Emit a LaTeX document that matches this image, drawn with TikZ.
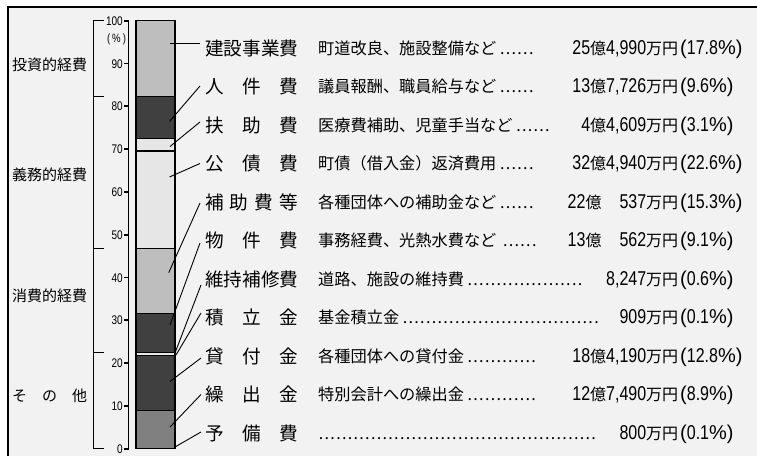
\documentclass[tikz,border=0pt]{standalone}
\usepackage{fontspec}
\setmainfont{Noto Sans CJK JP}
\newfontfamily\nf[FakeStretch=0.8]{Liberation Sans}
\newfontfamily\pf{Liberation Sans}
\definecolor{bgc}{HTML}{F2F2F2}
\definecolor{lightA}{HTML}{BEBEBE}
\definecolor{darkA}{HTML}{404040}
\definecolor{paleA}{HTML}{E6E6E6}
\definecolor{midA}{HTML}{808080}
\newcommand\Dg[1]{{\nf\fontsize{20}{20}\selectfont #1}}
\newcommand\Pct[1]{\hspace{2pt}{\pf\fontsize{20}{20}\selectfont(}\Dg{#1}{\pf\fontsize{20}{20}\selectfont\%)}}
\newcommand\DotN[1]{\hbox to \dimexpr 5.8pt*#1\relax{\cleaders\hbox to 5.8pt{\hss.\hss}\hfill}}
\newcommand\DescTxt[2]{#1\hspace{3pt}\DotN{#2}}
\begin{document}
\begin{tikzpicture}[x=1pt,y=-1pt,
  lab/.style={inner sep=0pt, anchor=west, font=\fontsize{18.6}{18.6}\selectfont, text height=16.4pt, text depth=2.2pt},
  desc/.style={inner sep=0pt, anchor=west, font=\fontsize{16.2}{16.2}\selectfont, text height=14.2pt, text depth=2pt},
  amt/.style={inner sep=0pt, anchor=west, font=\fontsize{16}{16}\selectfont, text height=14pt, text depth=2pt},
  side/.style={inner sep=0pt, anchor=west, font=\fontsize{15}{15}\selectfont, text height=13.2pt, text depth=1.8pt},
  axl/.style={inner sep=0pt, anchor=east, font=\nf\fontsize{12.5}{12.5}\selectfont, text height=9pt, text depth=0pt},
  seg/.style={draw=black, line width=0.9pt},
  conn/.style={draw=black, line width=0.9pt},
  tickmark/.style={line width=1.8pt},
  brk/.style={line width=1pt}
]
\path[use as bounding box] (0,0) rectangle (757,455);
\begin{scope}
\clip (0,0) rectangle (757,455);
\fill[white] (0,0) rectangle (757,455);
\draw[fill=bgc, line width=1.6pt] (8,7) rectangle (800,500);

% left bracket
\draw[brk] (104,20.7) -- (93,20.7) -- (93,448.7) -- (104,448.7);
\draw[brk] (93,96.9) -- (104,96.9);
\draw[brk] (93,248.0) -- (104,248.0);
\draw[brk] (93,352.4) -- (104,352.4);

% side labels
\node[side] (S1) at (12,65) {投資的経費};
\node[side] (S2) at (12,175) {義務的経費};
\node[side] (S3) at (12,296) {消費的経費};
\node[side] (S4) at (12,396) {\makebox[75pt][s]{そ\hfill の\hfill 他}};

% axis
\draw[line width=1.2pt] (128.7,20.7) -- (128.7,448.7);
\foreach \p/\yy in {100/20.7,90/63.5,80/106.3,70/149.1,60/191.9,50/234.7,40/277.5,30/320.3,20/363.1,10/405.9,0/448.7}{
  \draw[tickmark] (124,\yy) -- (128.7,\yy);
  \node[axl] (t\p) at (123,\yy) {\p};
}
\node[inner sep=0pt, font=\nf\fontsize{12}{12}\selectfont] (pc) at (116.5,39) {(\hspace{2pt}\%\hspace{2pt})};

% bar segments
\draw[seg, fill=lightA] (136,20.7) rectangle (175,96.9);
\draw[seg, fill=darkA] (136,96.9) rectangle (175,138.0);
\draw[seg, fill=paleA] (136,138.0) rectangle (175,151.2);
\draw[seg, fill=paleA] (136,151.2) rectangle (175,248.0);
\draw[seg, fill=lightA] (136,248.0) rectangle (175,313.5);
\draw[seg, fill=darkA] (136,313.5) rectangle (175,352.4);
\draw[seg, fill=paleA] (136,352.4) rectangle (175,355.0);
\draw[seg, fill=darkA] (136,355.0) rectangle (175,355.4);
\draw[seg, fill=darkA] (136,355.4) rectangle (175,410.2);
\draw[seg, fill=midA] (136,410.2) rectangle (175,448.3);
\draw[seg, fill=darkA] (136,448.3) rectangle (175,448.7);
\draw[line width=1.6pt] (136,151.2) -- (175,151.2);
\draw[line width=1.2pt] (136,20.7) rectangle (175,448.7);

% bar-side connector points
\coordinate (b1) at (170,43);
\coordinate (b2) at (169.5,121.5);
\coordinate (b3) at (170,146.5);
\coordinate (b4) at (169.5,177);
\coordinate (b5) at (168.7,272.7);
\coordinate (b6) at (170,325);
\coordinate (b7) at (175,353);
\coordinate (b8) at (176,355);
\coordinate (b9) at (170,381.5);
\coordinate (b10) at (170,427);
\coordinate (b11) at (175,447);

% category labels
\node[lab] (L1) at (205,48) {建設事業費};
\node[lab] (L2) at (205,86.5) {\makebox[93pt][s]{人\hfill 件\hfill 費}};
\node[lab] (L3) at (205,125) {\makebox[93pt][s]{扶\hfill 助\hfill 費}};
\node[lab] (L4) at (205,163.5) {\makebox[93pt][s]{公\hfill 債\hfill 費}};
\node[lab] (L5) at (205,202) {\makebox[93pt][s]{補\hfill 助\hfill 費\hfill 等}};
\node[lab] (L6) at (205,240.5) {\makebox[93pt][s]{物\hfill 件\hfill 費}};
\node[lab] (L7) at (205,279) {維持補修費};
\node[lab] (L8) at (205,317.5) {\makebox[93pt][s]{積\hfill 立\hfill 金}};
\node[lab] (L9) at (205,356) {\makebox[93pt][s]{貸\hfill 付\hfill 金}};
\node[lab] (L10) at (205,394.5) {\makebox[93pt][s]{繰\hfill 出\hfill 金}};
\node[lab] (L11) at (205,433) {\makebox[93pt][s]{予\hfill 備\hfill 費}};

% connectors
\draw[conn] (b1) -- ([xshift=-5pt,yshift=5pt]L1.west);
\draw[conn] (b2) -- ([xshift=-5pt,yshift=0.5pt]L2.west);
\draw[conn] (b3) -- ([xshift=-5pt,yshift=3pt]L3.west);
\draw[conn] (b4) -- ([xshift=-5pt,yshift=0pt]L4.west);
\draw[conn] (b5) -- ([xshift=-5pt,yshift=-1pt]L5.west);
\draw[conn] (b6) -- ([xshift=-5pt,yshift=-2.5pt]L6.west);
\draw[conn] (b7) -- ([xshift=-4pt,yshift=-6pt]L7.west);
\draw[conn] (b8) -- ([xshift=-4pt,yshift=4.5pt]L8.west);
\draw[conn] (b9) -- ([xshift=-4pt,yshift=-2pt]L9.west);
\draw[conn] (b10) -- ([xshift=-4pt,yshift=0pt]L10.west);
\draw[conn] (b11) -- ([xshift=-4pt,yshift=1pt]L11.west);

% descriptions
\node[desc] (D1) at (318,48) {\DescTxt{町道改良、施設整備など}{6}};
\node[desc] (D2) at (318,86.5) {\DescTxt{議員報酬、職員給与など}{6}};
\node[desc] (D3) at (318,125) {\DescTxt{医療費補助、児童手当など}{6}};
\node[desc] (D4) at (318,163.5) {\DescTxt{町債（借入金）返済費用}{6}};
\node[desc] (D5) at (318,202) {\DescTxt{各種団体への補助金など}{6}};
\node[desc] (D6) at (318,240.5) {\DescTxt{事務経費、光熱水費など\hspace{3pt}}{6}};
\node[desc] (D7) at (318,279) {\DescTxt{道路、施設の維持費}{20}};
\node[desc] (D8) at (318,317.5) {\DescTxt{基金積立金}{34}};
\node[desc] (D9) at (318,356) {\DescTxt{各種団体への貸付金}{12}};
\node[desc] (D10) at (318,394.5) {\DescTxt{特別会計への繰出金}{12}};
\node[desc] (D11) at (318,433) {\DotN{48}};

% amounts
\node[amt] (A1) at (646,48) {\makebox[0pt][r]{\Dg{25}億\Dg{4,990}}万円\Pct{17.8}};
\node[amt] (A2) at (646,86.5) {\makebox[0pt][r]{\Dg{13}億\Dg{7,726}}万円\Pct{9.6}};
\node[amt] (A3) at (646,125) {\makebox[0pt][r]{\Dg{4}億\Dg{4,609}}万円\Pct{3.1}};
\node[amt] (A4) at (646,163.5) {\makebox[0pt][r]{\Dg{32}億\Dg{4,940}}万円\Pct{22.6}};
\node[amt] (A5) at (646,202) {\makebox[0pt][r]{\Dg{22}億\hspace{18pt}\Dg{537}}万円\Pct{15.3}};
\node[amt] (A6) at (646,240.5) {\makebox[0pt][r]{\Dg{13}億\hspace{18pt}\Dg{562}}万円\Pct{9.1}};
\node[amt] (A7) at (646,279) {\makebox[0pt][r]{\Dg{8,247}}万円\Pct{0.6}};
\node[amt] (A8) at (646,317.5) {\makebox[0pt][r]{\Dg{909}}万円\Pct{0.1}};
\node[amt] (A9) at (646,356) {\makebox[0pt][r]{\Dg{18}億\Dg{4,190}}万円\Pct{12.8}};
\node[amt] (A10) at (646,394.5) {\makebox[0pt][r]{\Dg{12}億\Dg{7,490}}万円\Pct{8.9}};
\node[amt] (A11) at (646,433) {\makebox[0pt][r]{\Dg{800}}万円\Pct{0.1}};
\end{scope}
\end{tikzpicture}
\end{document}
